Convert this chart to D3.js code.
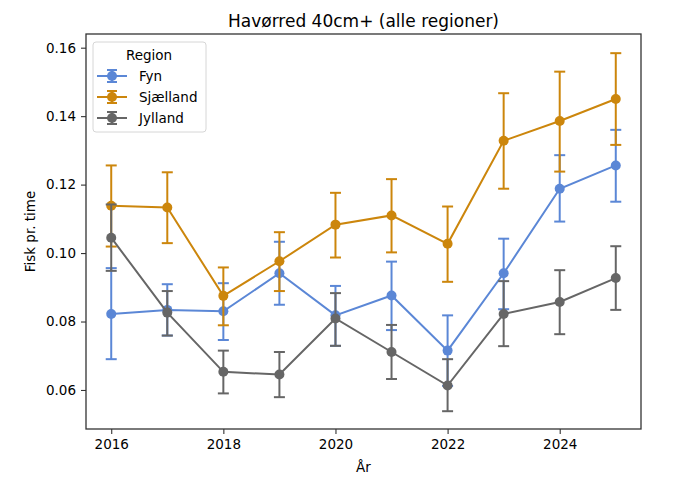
<!DOCTYPE html>
<html>
<head>
<meta charset="utf-8">
<script src="https://cdn.jsdelivr.net/npm/d3@7"></script>
<style>
	body { margin: 0; background: #fff; }
	text { font-family: "DejaVu Sans", sans-serif; fill: #000; }
</style>
</head>
<body>
<div id="chart"></div>
<script>

// data
var years = [2016, 2017, 2018, 2019, 2020, 2021, 2022, 2023, 2024, 2025];

var fyn      = [0.0822, 0.0834, 0.0830, 0.0941, 0.0818, 0.0876, 0.0715, 0.0941, 0.1188, 0.1256];
var fyn_lo   = [0.0690, 0.0759, 0.0746, 0.0849, 0.0729, 0.0775, 0.0612, 0.0836, 0.1092, 0.1150];
var fyn_hi   = [0.0956, 0.0909, 0.0912, 0.1033, 0.0904, 0.0975, 0.0818, 0.1042, 0.1286, 0.1360];

var sjl      = [0.1138, 0.1133, 0.0875, 0.0976, 0.1083, 0.1110, 0.1027, 0.1328, 0.1386, 0.1450];
var sjl_lo   = [0.1019, 0.1029, 0.0789, 0.0889, 0.0987, 0.1002, 0.0916, 0.1188, 0.1238, 0.1316];
var sjl_hi   = [0.1256, 0.1236, 0.0958, 0.1061, 0.1176, 0.1216, 0.1136, 0.1467, 0.1530, 0.1584];

var jyl      = [0.1045, 0.0826, 0.0653, 0.0645, 0.0809, 0.0711, 0.0613, 0.0822, 0.0857, 0.0927];
var jyl_lo   = [0.0948, 0.0759, 0.0590, 0.0579, 0.0729, 0.0632, 0.0538, 0.0728, 0.0763, 0.0834];
var jyl_hi   = [0.1142, 0.0889, 0.0715, 0.0711, 0.0883, 0.0790, 0.0690, 0.0918, 0.0950, 0.1020];

var region_names = ['Fyn', 'Sjælland', 'Jylland'];
var region_colors = ['#5b87d6', '#cc860c', '#666666'];

var y_ticks = [0.06, 0.08, 0.10, 0.12, 0.14, 0.16];
var x_ticks = [2016, 2018, 2020, 2022, 2024];

var series = [
	{ name: region_names[0], color: region_colors[0], v: fyn, lo: fyn_lo, hi: fyn_hi },
	{ name: region_names[1], color: region_colors[1], v: sjl, lo: sjl_lo, hi: sjl_hi },
	{ name: region_names[2], color: region_colors[2], v: jyl, lo: jyl_lo, hi: jyl_hi }
];

var width = 700, height = 493;
var margin = { left: 86, right: 59, top: 34, bottom: 64 };
var font_size = '13.5px';

var svg = d3.select('#chart').append('svg')
	.attr('width', width)
	.attr('height', height);

var x = d3.scaleLinear()
	.domain([2015.55, 2025.45])
	.range([margin.left, width - margin.right]);

var y = d3.scaleLinear()
	.domain([0.0486, 0.1640])
	.range([height - margin.bottom, margin.top]);

// axes
var x_axis = svg.append('g')
	.attr('transform', 'translate(0,' + (height - margin.bottom) + ')')
	.call(d3.axisBottom(x).tickValues(x_ticks).tickFormat(d3.format('d')).tickSize(5).tickPadding(5));

var y_axis = svg.append('g')
	.attr('transform', 'translate(' + margin.left + ',0)')
	.call(d3.axisLeft(y).tickValues(y_ticks).tickFormat(d3.format('.2f')).tickSize(5).tickPadding(5));

[x_axis, y_axis].forEach(function(a) {
	a.selectAll('.domain').remove();
	a.selectAll('.tick line').attr('stroke', '#333').attr('stroke-width', 1.1);
	a.selectAll('.tick text').style('font-size', font_size).attr('fill', '#111');
});

// frame
svg.append('rect')
	.attr('x', margin.left)
	.attr('y', margin.top)
	.attr('width', width - margin.left - margin.right)
	.attr('height', height - margin.top - margin.bottom)
	.attr('fill', 'none')
	.attr('stroke', '#333')
	.attr('stroke-width', 1.3);

var plot = svg.append('g');

series.forEach(function(s) {
	var g = plot.append('g');

	var line = d3.line()
		.x(function(d, i) { return x(years[i]); })
		.y(function(d) { return y(d); });

	g.append('path')
		.datum(s.v)
		.attr('d', line)
		.attr('fill', 'none')
		.attr('stroke', s.color)
		.attr('stroke-width', 2);

	years.forEach(function(yr, i) {
		var cx = x(yr);
		g.append('line')
			.attr('x1', cx).attr('x2', cx)
			.attr('y1', y(s.lo[i])).attr('y2', y(s.hi[i]))
			.attr('stroke', s.color).attr('stroke-width', 2);
		[s.lo[i], s.hi[i]].forEach(function(v) {
			g.append('line')
				.attr('x1', cx - 5.5).attr('x2', cx + 5.5)
				.attr('y1', y(v)).attr('y2', y(v))
				.attr('stroke', s.color).attr('stroke-width', 2);
		});
	});

	g.selectAll('circle').data(s.v)
		.enter().append('circle')
			.attr('cx', function(d, i) { return x(years[i]); })
			.attr('cy', function(d) { return y(d); })
			.attr('r', 5)
			.attr('fill', s.color);
});

// labels
svg.append('text')
	.attr('x', (margin.left + width - margin.right) / 2)
	.attr('y', 27)
	.attr('text-anchor', 'middle')
	.style('font-size', '17px')
	.text('Havørred 40cm+ (alle regioner)');

svg.append('text')
	.attr('x', (margin.left + width - margin.right) / 2)
	.attr('y', 472)
	.attr('text-anchor', 'middle')
	.style('font-size', font_size)
	.text('År');

svg.append('text')
	.attr('transform', 'translate(35,' + ((margin.top + height - margin.bottom) / 2) + ') rotate(-90)')
	.attr('text-anchor', 'middle')
	.style('font-size', font_size)
	.text('Fisk pr. time');

// legend
var legend = svg.append('g').attr('transform', 'translate(93,42)');

legend.append('rect')
	.attr('width', 113)
	.attr('height', 90)
	.attr('rx', 3)
	.attr('fill', '#fff')
	.attr('fill-opacity', 0.8)
	.attr('stroke', '#d6d6d6');

legend.append('text')
	.attr('x', 56)
	.attr('y', 18)
	.attr('text-anchor', 'middle')
	.style('font-size', font_size)
	.text('Region');

series.forEach(function(s, i) {
	var ly = 34 + i * 21;
	var row = legend.append('g').attr('transform', 'translate(0,' + ly + ')');
	row.append('line')
		.attr('x1', 4).attr('x2', 34).attr('y1', 0).attr('y2', 0)
		.attr('stroke', s.color).attr('stroke-width', 2);
	row.append('line')
		.attr('x1', 19).attr('x2', 19).attr('y1', -6).attr('y2', 6)
		.attr('stroke', s.color).attr('stroke-width', 2);
	[-6, 6].forEach(function(d) {
		row.append('line')
			.attr('x1', 14).attr('x2', 24).attr('y1', d).attr('y2', d)
			.attr('stroke', s.color).attr('stroke-width', 2);
	});
	row.append('circle')
		.attr('cx', 19).attr('cy', 0).attr('r', 5)
		.attr('fill', s.color);
	row.append('text')
		.attr('x', 46)
		.attr('y', 5)
		.style('font-size', font_size)
		.text(s.name);
});

</script>
</body>
</html>
